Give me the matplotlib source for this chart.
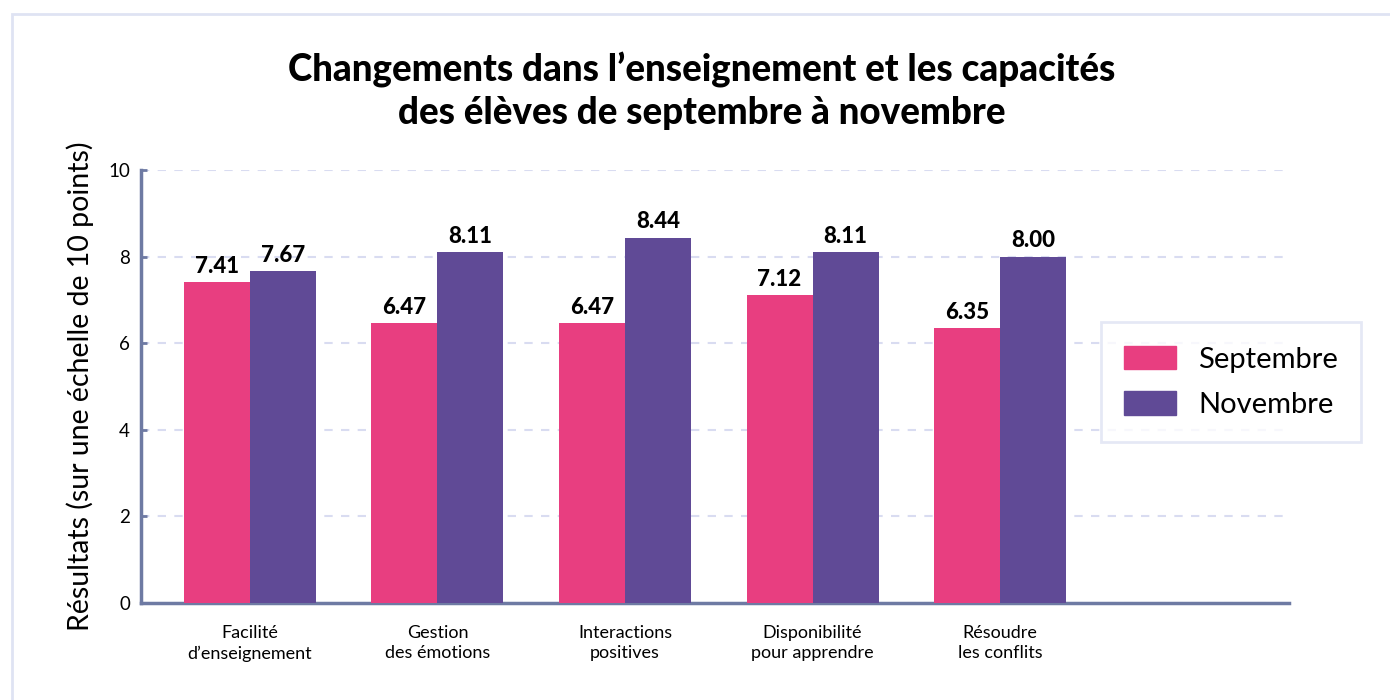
import matplotlib.pyplot as plt
from matplotlib.patches import Rectangle, Patch
import numpy as np

plt.rcParams['font.family'] = ['Lato', 'DejaVu Sans']

# données
categories = ['Facilité\nd\u2019enseignement', 'Gestion\ndes émotions', 'Interactions\npositives',
              'Disponibilité\npour apprendre', 'Résoudre\nles conflits']
septembre = [7.41, 6.47, 6.47, 7.12, 6.35]
novembre = [7.67, 8.11, 8.44, 8.11, 8.00]
series_names = ['Septembre', 'Novembre']

pink = '#e83e80'
purple = '#604a96'
axis_col = '#6e7aa3'
grid_col = '#d9dcf1'

fig = plt.figure(figsize=(13.9, 7), dpi=100)
W, H = 1390, 700

# cadre extérieur
fig.patches.append(Rectangle((12 / W, -0.1), 1.2, 1 - 14 / H + 0.1, transform=fig.transFigure,
                             fill=False, edgecolor='#dfe3f3', linewidth=2))

ax = fig.add_axes([141 / W, 1 - 603 / H, (1289 - 141) / W, (603 - 170) / H])

x = np.arange(len(categories))
w = 0.352
b1 = ax.bar(x - w / 2, septembre, w, color=pink, zorder=3)
b2 = ax.bar(x + w / 2, novembre, w, color=purple, zorder=3)

for bars, vals in [(b1, septembre), (b2, novembre)]:
    for r, v in zip(bars, vals):
        ax.text(r.get_x() + r.get_width() / 2, v + 0.12, f'{v:.2f}', ha='center', va='bottom',
                fontsize=16, fontweight='black', color='black', zorder=4)

ax.set_xlim(-0.581, 5.541)
ax.set_ylim(0, 10)
ax.set_yticks([0, 2, 4, 6, 8, 10])
ax.set_xticks(x)
ax.set_xticklabels(categories, fontsize=13, linespacing=1.3)
ax.tick_params(axis='x', length=0, pad=16)
ax.tick_params(axis='y', length=4, width=2, color=axis_col, labelsize=13.5, pad=8, direction='in')
ax.yaxis.grid(True, color=grid_col, linestyle=(0, (4, 4)), linewidth=1.5, zorder=0)

for s in ['top', 'right']:
    ax.spines[s].set_visible(False)
for s in ['left', 'bottom']:
    ax.spines[s].set_color(axis_col)
    ax.spines[s].set_linewidth(2.5)

ax.set_ylabel('Résultats (sur une échelle de 10 points)', fontsize=20.5, labelpad=10)

fig.text(702 / W, 1 - 91 / H, 'Changements dans l\u2019enseignement et les capacités\ndes élèves de septembre à novembre',
         ha='center', va='center', fontsize=26.5, fontweight='black', linespacing=1.3)

handles = [Patch(color=pink, label=series_names[0]), Patch(color=purple, label=series_names[1])]
leg = fig.legend(handles=handles, loc='center', bbox_to_anchor=(1231 / W, 1 - 382 / H),
                 fontsize=21, frameon=True, fancybox=False, edgecolor='#dfe3f3',
                 handlelength=1.78, handleheight=0.86, handletextpad=0.75, labelspacing=0.65,
                 borderpad=0.8, borderaxespad=0)
leg.get_frame().set_linewidth(2)

fig.savefig('out.png', dpi=100, facecolor='white')
